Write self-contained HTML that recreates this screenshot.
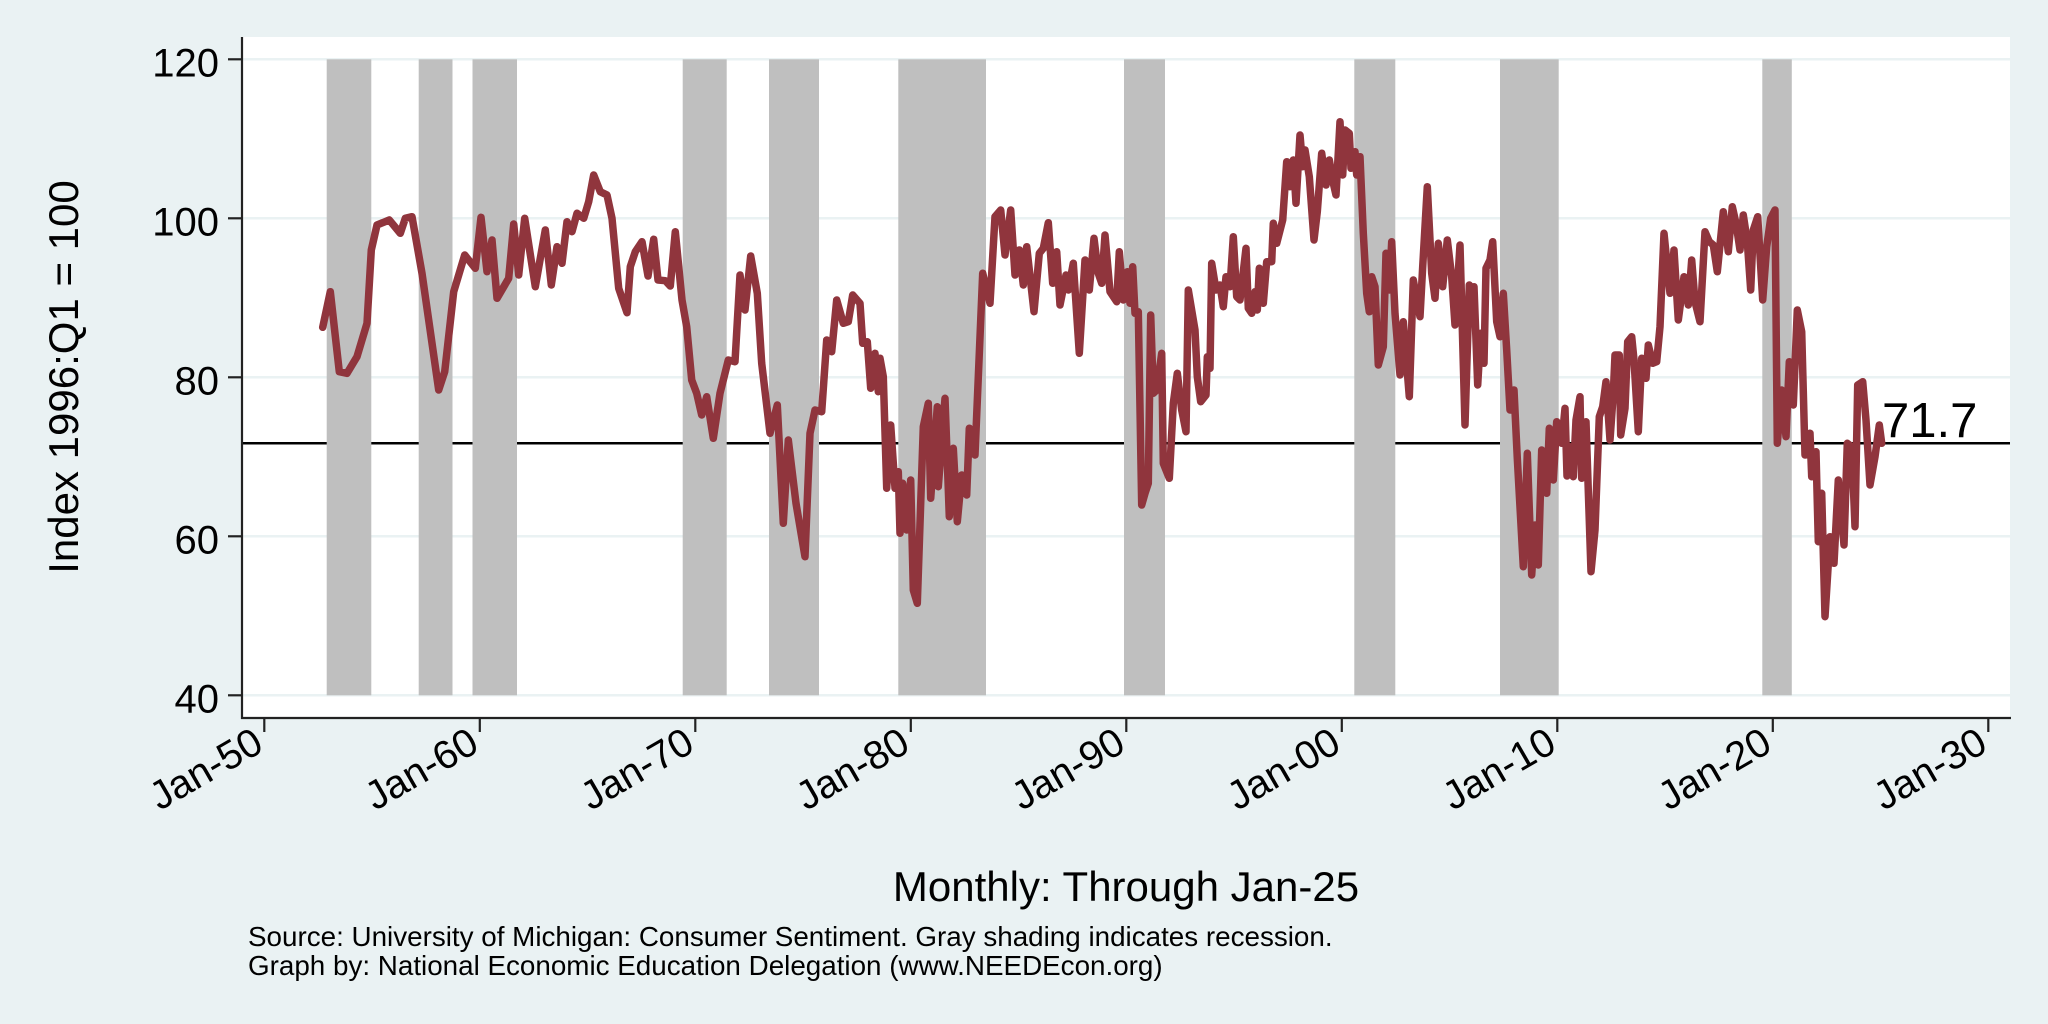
<!DOCTYPE html>
<html><head><meta charset="utf-8"><style>
html,body{margin:0;padding:0;background:#eaf2f3;}
svg{display:block;}
text{font-family:"Liberation Sans",Arial,Helvetica,sans-serif;fill:#000;}
</style></head><body>
<svg width="2048" height="1024" viewBox="0 0 2048 1024" xmlns="http://www.w3.org/2000/svg">
<rect x="0" y="0" width="2048" height="1024" fill="#eaf2f3"/>
<rect x="242" y="37" width="1768" height="681" fill="#ffffff"/>
<g stroke="#eaf2f3" stroke-width="2.5">
<line x1="242" y1="59.3" x2="2010" y2="59.3"/>
<line x1="242" y1="218.3" x2="2010" y2="218.3"/>
<line x1="242" y1="377.3" x2="2010" y2="377.3"/>
<line x1="242" y1="536.3" x2="2010" y2="536.3"/>
<line x1="242" y1="695.3" x2="2010" y2="695.3"/>
</g>
<line x1="242" y1="443.3" x2="2010" y2="443.3" stroke="#000" stroke-width="2.5"/>
<g fill="#bfbfbf">
<rect x="326.7" y="59.3" width="44.6" height="636"/>
<rect x="418.7" y="59.3" width="33.8" height="636"/>
<rect x="472.5" y="59.3" width="44.5" height="636"/>
<rect x="682.7" y="59.3" width="44" height="636"/>
<rect x="769" y="59.3" width="50" height="636"/>
<rect x="898.3" y="59.3" width="87.7" height="636"/>
<rect x="1124" y="59.3" width="41" height="636"/>
<rect x="1354.3" y="59.3" width="41" height="636"/>
<rect x="1500" y="59.3" width="58.7" height="636"/>
<rect x="1762.3" y="59.3" width="29.5" height="636"/>
</g>
<polyline fill="none" stroke="#90353d" stroke-width="7.5" stroke-linejoin="round" stroke-linecap="round" points="
322.7,327.3 330.3,291.7 339.3,371.7 347,373.3 357,356.7 367,323.3 371.3,250 377,225 389.3,220 400.3,233.3 405.3,218.3 412,216.7 422,273.3 438.7,390 444.7,371.7 453.7,291.7 464.7,255 475.3,268.3 481,217.3 487,271.7 492,240 497,298.3 508.7,278.3 513.7,224 518.7,275 524.7,218.3 535.3,286.7 545.3,230 551.3,285 557,246.7 562,263.3 567,221.7 572,231.7 577,213.3 583.7,218.3 588.7,201.7 593.7,175 600.3,191.7 607,195 612,218.3 618.7,288.3 627,312.7 630.3,266.7 635.3,251.7 642,241.7 648,276 653.7,239.3 658,280 665.3,280.7 670.3,286 675.3,231.7 682,300
686.7,326.7 691.7,380 696.7,393.3 701.7,415 706.7,396.7 713.3,438.3 720,393.3 728.3,360 735,361.7 740,275 745,310 750.7,256 757.3,293.3 761.7,363.3 770,433.3 777.3,405 783.3,523.3 788.3,440 796,503.3 805,556.7 810,433.3 815,410 821.7,411.7 826.7,340 831.7,351.7 836.7,300 843.3,323.3 848.3,321.7 852.7,295 860,303.3 862.7,343.3 867.3,341.7 870.7,388.3 875,353.3 878.3,391.7 880,358.3 883.3,376.7 886.7,488.3 890.7,425 895,488.3 898.3,471.7 900,533.3 902.7,483.3 906.7,530 910.7,480 913.3,590 917.3,603.3 923.3,426.7 928.3,403.3 930.7,498.3 937.3,406.7 938.3,486.7 945,398.3 949.3,516.7 953.3,448.3 957.3,521.7 961.7,475 966.7,495 969.3,428.3 975,455 982.7,273.3 990,303.3 995,216.7 1000.7,210 1005,255 1010.7,210 1015,275 1019.3,250 1023.3,285 1026.7,246.7 1034,311.7 1039.3,253.3 1043.3,248.3 1048.3,222.7 1052.7,283.3 1056.7,251.7 1060,305 1066,275 1068.3,290 1073.3,263.3 1079.3,353.3 1085,260 1089.3,290 1094,238.3 1098.3,273.3 1101.7,283.3 1105,235 1110,291.7 1116.7,301.7 1119.3,251.7 1123.3,300 1127.3,271.7 1130,303.3 1132.7,266.7 1135,313.3 1138.3,311.7
1141.7,505 1145,493.3 1148.3,483.3 1150.7,315 1153.3,393.3 1156.7,390 1161.7,353.3 1163.3,463.3 1169.3,478.3 1173.3,403.3 1177.3,373.3 1181.7,410 1186,431.7 1188.3,290 1195,330 1197.3,376.7 1200.7,401.7 1206,395 1207.3,356.7 1210,368.3 1211.7,263.3 1216,290 1220,285 1223.3,306.7 1226,276.7 1230,286.7 1233.3,236.7 1236.7,296.7 1240,300 1246,248.3 1248.3,308.3 1251.7,313.3 1255,291.7 1257.3,310 1259.3,268.3 1263.3,303.3 1266.7,261.7 1271.7,261.7 1273.3,223.3 1276.7,243.3 1282.7,220 1286.7,161.7 1290,186.7 1293.3,160 1296,203.3 1300,135 1302.7,166.7 1305,150 1309.3,176.7 1314,240 1317.3,211.7 1321.7,153.3 1326,185 1329.3,160 1333.3,183.3 1336,195 1340,121.7 1342.7,175 1345,130 1349.3,133.3 1351,168.3 1355,151.7 1356.7,175 1360,156.7 1363.3,233.3 1366.7,293.3 1369.3,311.7 1371.7,276.7 1375,286.7 1378.3,365 1383.3,346.7 1386,253.3 1389.3,290 1391.7,241.7 1395,313.3 1400,375 1403.3,321.7 1409.3,396.7 1413.3,280 1420,316.7 1422.7,266.7 1427.3,186.7 1431.7,273.3 1435,298.3 1438.3,243.3 1442.7,286.7 1447.3,240 1451.7,276.7 1455,325 1460,245 1465,425 1469.3,285 1472.7,321.7 1474,286.7 1477.7,385 1480.7,333.3 1484,363.3 1486,268.3 1490,260 1492.7,241.7 1496.7,321.7 1500,336.7 1503.3,293.3 1506.7,350 1510,410 1514,390 1517.3,458.3 1523.3,566.7 1527.3,453.3 1531.7,575 1535,525 1538.3,565 1541.7,450 1546.7,493.3 1549.3,428.3 1553.3,480 1556.7,421.7 1561.7,443.3 1565,408.3
1567,476 1570,446.7 1573.3,476.7 1576,420 1580,396.7 1581.7,478.3 1586,421.7 1591,571.7 1595,530 1599.3,416.7 1602.7,406.7 1606,381.7 1610,440 1613.3,393.3 1615,355 1619.3,355 1620.7,435 1625,408.3 1627.7,341.7 1631.7,336.7 1634,360 1638.3,431.7 1641.7,358.3 1646,378.3 1648.3,345 1652.7,363.3 1656.7,361.7 1660,326.7 1664,233.3 1670,293.3 1674,250 1678.3,320 1684,276.7 1688.3,305 1691.7,260 1695,301.7 1700,321.7 1705,231.7 1709.3,241.7 1713.3,245 1717.3,271.7 1723.3,211.7 1728.3,251.7 1732.3,206.7 1736,223.3 1740,250 1743.3,215 1747.3,241.7 1750.7,290 1753.3,230 1757.7,216.7 1762.7,300 1766.7,246.7 1770.7,218.3 1775,210 1777.3,443.3 1781.7,390 1786,436.7 1789.3,361.7 1793.3,405 1797.3,310 1801.7,331.7 1805,455 1810,433.3 1811.7,476.7 1816,451.7 1818.3,541.7 1821.7,493.3 1825,616.7 1830,536.7 1834,563.3 1838.3,480 1844,545 1847.3,443.3 1851.7,446.7 1855,526.7 1857.7,385 1862.7,381.7 1866,420 1870,485 1875,456.7 1879.3,425 1881.7,443.3"/>
<text x="1882" y="437" font-size="49">71.7</text>
<g stroke="#222" stroke-width="2.2" fill="none">
<line x1="242" y1="37" x2="242" y2="719"/>
<line x1="241" y1="718" x2="2011" y2="718"/>
<line x1="228" y1="59.3" x2="242" y2="59.3"/>
<line x1="228" y1="218.3" x2="242" y2="218.3"/>
<line x1="228" y1="377.3" x2="242" y2="377.3"/>
<line x1="228" y1="536.3" x2="242" y2="536.3"/>
<line x1="228" y1="695.3" x2="242" y2="695.3"/>
<line x1="264.3" y1="718" x2="264.3" y2="732"/>
<line x1="479.8" y1="718" x2="479.8" y2="732"/>
<line x1="695.3" y1="718" x2="695.3" y2="732"/>
<line x1="910.8" y1="718" x2="910.8" y2="732"/>
<line x1="1126.3" y1="718" x2="1126.3" y2="732"/>
<line x1="1341.8" y1="718" x2="1341.8" y2="732"/>
<line x1="1557.3" y1="718" x2="1557.3" y2="732"/>
<line x1="1772.8" y1="718" x2="1772.8" y2="732"/>
<line x1="1988.3" y1="718" x2="1988.3" y2="732"/>
</g>
<g font-size="40" text-anchor="end">
<text x="219" y="76.5">120</text>
<text x="219" y="235.5">100</text>
<text x="219" y="394.5">80</text>
<text x="219" y="553.5">60</text>
<text x="219" y="712.5">40</text>
</g>
<g font-size="40" text-anchor="end">
<text x="265.5" y="750" transform="rotate(-30 265.5 750)">Jan-50</text>
<text x="481" y="750" transform="rotate(-30 481 750)">Jan-60</text>
<text x="696.5" y="750" transform="rotate(-30 696.5 750)">Jan-70</text>
<text x="912" y="750" transform="rotate(-30 912 750)">Jan-80</text>
<text x="1127.5" y="750" transform="rotate(-30 1127.5 750)">Jan-90</text>
<text x="1343" y="750" transform="rotate(-30 1343 750)">Jan-00</text>
<text x="1558.5" y="750" transform="rotate(-30 1558.5 750)">Jan-10</text>
<text x="1774" y="750" transform="rotate(-30 1774 750)">Jan-20</text>
<text x="1989.5" y="750" transform="rotate(-30 1989.5 750)">Jan-30</text>
</g>
<text x="78" y="377" font-size="42" text-anchor="middle" transform="rotate(-90 78 377)">Index 1996:Q1 = 100</text>
<text x="1126" y="901" font-size="42" text-anchor="middle">Monthly: Through Jan-25</text>
<text x="248" y="946" font-size="27.8">Source: University of Michigan: Consumer Sentiment. Gray shading indicates recession.</text>
<text x="248" y="975" font-size="27.8">Graph by: National Economic Education Delegation (www.NEEDEcon.org)</text>
</svg>
</body></html>
